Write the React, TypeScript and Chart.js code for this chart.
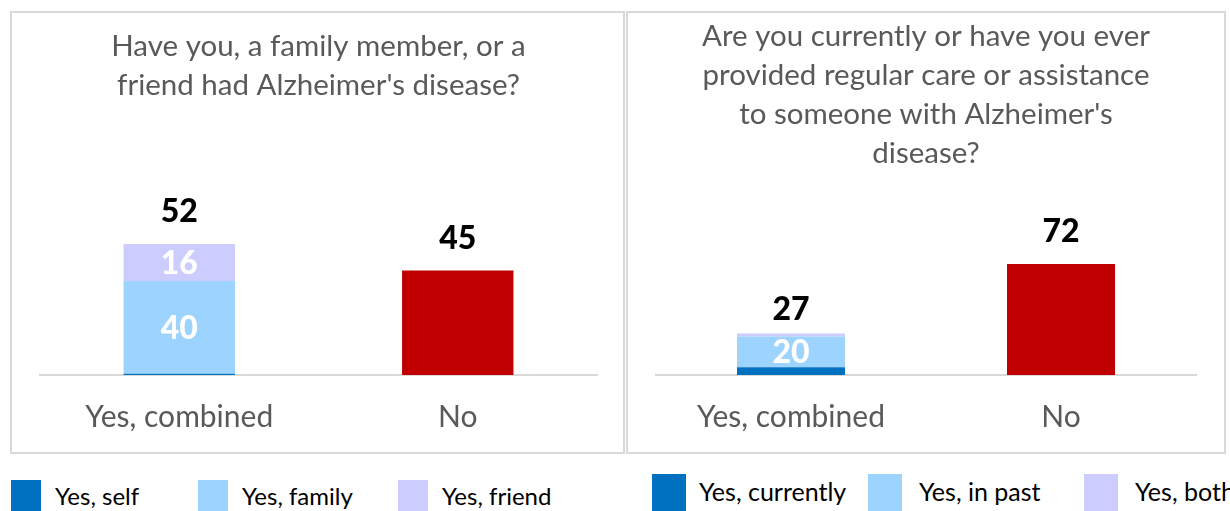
import React, { useEffect, useRef } from "react";
import { Chart, registerables } from "chart.js";

Chart.register(...registerables);

// ---------------- data ----------------
const leftCategories = ["Yes, combined", "No"];
const leftTitle = ["Have you, a family member, or a", "friend had Alzheimer's disease?"];
const leftSeriesNames = ["Yes, self", "Yes, family", "Yes, friend"];
const leftSelf = [0.5, null];
const leftFamily = [40, null];
const leftFriend = [16, null];
const leftNo = [null, 45];
const leftTotals = [52, 45];

const rightCategories = ["Yes, combined", "No"];
const rightTitle = [
  "Are you currently or have you ever",
  "provided regular care or assistance",
  "to someone with Alzheimer's",
  "disease?",
];
const rightSeriesNames = ["Yes, currently", "Yes, in past", "Yes, both"];
const rightCurrently = [5, null];
const rightPast = [20, null];
const rightBoth = [2, null];
const rightNo = [null, 72];
const rightTotals = [27, 72];

const yMax = 100;

// ---------------- styles / layout ----------------
const FONT = "Lato, 'Open Sans', sans-serif";
const SERIES_COLORS = ["#0070C0", "#9DD3FF", "#CCCCFF"];
const NO_COLOR = "#C00000";
const TEXT_GRAY = "#595959";
const LINE_GRAY = "#D9D9D9";

const barLabelsPlugin = {
  id: "barLabels",
  afterDatasetsDraw(chart: any, _args: any, opts: any) {
    const { ctx } = chart;
    ctx.save();
    ctx.textAlign = "center";
    ctx.textBaseline = "middle";
    ctx.font = `900 ${opts.fontSize}px ${FONT}`;
    chart.data.datasets.forEach((ds: any, di: number) => {
      if (!ds.showValue) return;
      const meta = chart.getDatasetMeta(di);
      meta.data.forEach((el: any, i: number) => {
        const v = ds.data[i];
        if (v == null) return;
        const p = el.getProps(["x", "y", "base"], true);
        ctx.fillStyle = "#FFFFFF";
        ctx.fillText(String(v), p.x, (p.y + p.base) / 2 + 1);
      });
    });
    (opts.totals || []).forEach((t: number, i: number) => {
      let top = Infinity;
      let x = 0;
      chart.data.datasets.forEach((ds: any, di: number) => {
        const v = ds.data[i];
        if (v == null) return;
        const el: any = chart.getDatasetMeta(di).data[i];
        if (el.y < top) top = el.y;
        x = el.x;
      });
      if (!isFinite(top)) return;
      ctx.fillStyle = "#000000";
      ctx.fillText(String(t), x, top - opts.offsets[i]);
    });
    ctx.restore();
  },
};

type PanelCfg = {
  categories: string[];
  title: string[];
  names: string[];
  stacks: (number | null)[][];
  labelled: boolean[];
  no: (number | null)[];
  totals: number[];
  offsets: number[];
  sidePad: number;
  titlePad: { top: number; bottom: number };
};

function makeConfig(c: PanelCfg): any {
  const datasets: any[] = c.stacks.map((d, k) => ({
    label: c.names[k],
    data: d,
    backgroundColor: SERIES_COLORS[k],
    borderWidth: 0,
    stack: "s",
    barPercentage: 0.4,
    categoryPercentage: 1,
    showValue: c.labelled[k],
  }));
  datasets.push({
    label: "No",
    data: c.no,
    backgroundColor: NO_COLOR,
    borderWidth: 0,
    stack: "s",
    barPercentage: 0.4,
    categoryPercentage: 1,
    showValue: false,
  });
  return {
    type: "bar",
    data: { labels: c.categories, datasets },
    plugins: [barLabelsPlugin],
    options: {
      responsive: false,
      animation: false,
      layout: { padding: { left: c.sidePad, right: c.sidePad, top: 0, bottom: 0 } },
      plugins: {
        legend: { display: false },
        tooltip: { enabled: false },
        title: {
          display: true,
          text: c.title,
          color: TEXT_GRAY,
          font: { family: FONT, size: 29.5, weight: "normal", lineHeight: 39 / 29.5 },
          padding: c.titlePad,
        },
        barLabels: { totals: c.totals, offsets: c.offsets, fontSize: 32 },
      },
      scales: {
        x: {
          stacked: true,
          grid: { display: false, drawTicks: false },
          border: { display: true, color: LINE_GRAY, width: 2 },
          ticks: { color: TEXT_GRAY, font: { family: FONT, size: 30 }, padding: 24, maxRotation: 0 },
          afterFit: (s: any) => {
            s.height = 85;
          },
        },
        y: { stacked: true, display: false, min: 0, max: yMax },
      },
    },
  };
}

function ChartCanvas({ cfg, left, width }: { cfg: PanelCfg; left: number; width: number }) {
  const ref = useRef<HTMLCanvasElement | null>(null);
  useEffect(() => {
    if (!ref.current) return;
    const chart = new Chart(ref.current, makeConfig(cfg));
    return () => chart.destroy();
  }, []);
  return (
    <canvas
      ref={ref}
      width={width}
      height={460}
      style={{ position: "absolute", left, top: 0, width, height: 460 }}
    />
  );
}

type LegendLayout = {
  boxX: number[];
  boxW: number;
  textX: number[];
  boxTop: number;
  textCenter: number;
  fontSize: number;
};

function HtmlLegend({ names, layout }: { names: string[]; layout: LegendLayout }) {
  const lh = 30;
  return (
    <>
      {names.map((n, i) => (
        <React.Fragment key={n}>
          <div
            style={{
              position: "absolute",
              left: layout.boxX[i],
              top: layout.boxTop,
              width: layout.boxW,
              height: 45,
              background: SERIES_COLORS[i],
            }}
          />
          <div
            style={{
              position: "absolute",
              left: layout.textX[i],
              top: layout.textCenter - lh / 2,
              height: lh,
              lineHeight: `${lh}px`,
              fontFamily: FONT,
              fontSize: layout.fontSize,
              color: "#000",
              whiteSpace: "nowrap",
            }}
          >
            {n}
          </div>
        </React.Fragment>
      ))}
    </>
  );
}

const leftCfg: PanelCfg = {
  categories: leftCategories,
  title: leftTitle,
  names: leftSeriesNames,
  stacks: [leftSelf, leftFamily, leftFriend],
  labelled: [false, true, true],
  no: leftNo,
  totals: leftTotals,
  offsets: [32, 32],
  sidePad: 40,
  titlePad: { top: 26.5, bottom: 38.5 },
};

const rightCfg: PanelCfg = {
  categories: rightCategories,
  title: rightTitle,
  names: rightSeriesNames,
  stacks: [rightCurrently, rightPast, rightBoth],
  labelled: [false, true, false],
  no: rightNo,
  totals: rightTotals,
  offsets: [24, 32],
  sidePad: 30,
  titlePad: { top: 16.5, bottom: 48.5 },
};

const leftLegendLayout: LegendLayout = {
  boxX: [11, 198, 398],
  boxW: 30,
  textX: [55, 242, 442],
  boxTop: 480,
  textCenter: 496,
  fontSize: 24,
};

const rightLegendLayout: LegendLayout = {
  boxX: [652, 868, 1084],
  boxW: 34,
  textX: [699, 919, 1135],
  boxTop: 474,
  textCenter: 491,
  fontSize: 25,
};

export default function App() {
  return (
    <div
      style={{
        position: "absolute",
        left: 0,
        top: 0,
        width: 1230,
        height: 511,
        overflow: "hidden",
        background: "#fff",
      }}
    >
      <div
        style={{
          position: "absolute",
          left: 10,
          top: 11,
          width: 615,
          height: 443,
          border: `2px solid ${LINE_GRAY}`,
          boxSizing: "border-box",
        }}
      />
      <div
        style={{
          position: "absolute",
          left: 626,
          top: 11,
          width: 600,
          height: 443,
          border: `2px solid ${LINE_GRAY}`,
          boxSizing: "border-box",
        }}
      />
      <ChartCanvas cfg={leftCfg} left={0} width={637} />
      <ChartCanvas cfg={rightCfg} left={626} width={600} />
      <HtmlLegend names={leftSeriesNames} layout={leftLegendLayout} />
      <HtmlLegend names={rightSeriesNames} layout={rightLegendLayout} />
    </div>
  );
}
